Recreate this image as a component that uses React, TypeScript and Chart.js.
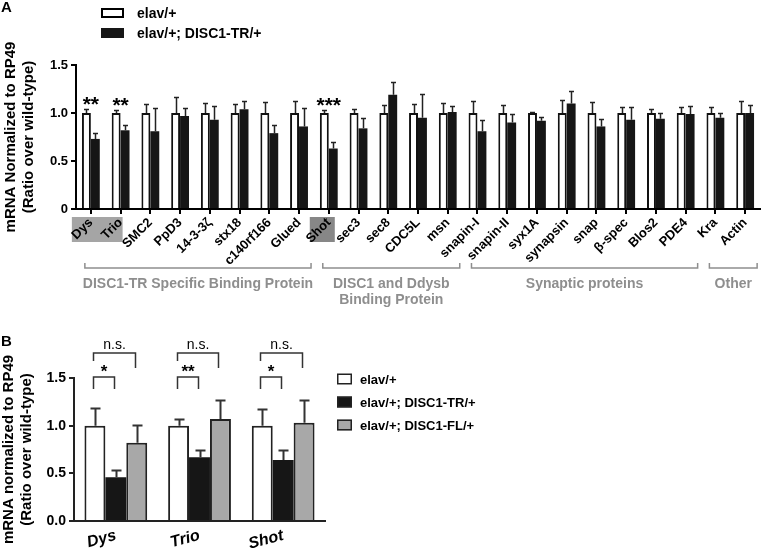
import React, { useEffect, useRef } from 'react';
import { Chart, registerables } from 'chart.js';
Chart.register(...registerables);

const FONT = "'Liberation Sans', Arial, Helvetica, sans-serif";

// ---------- Panel A data ----------
const genesA = ['Dys', 'Trio', 'SMC2', 'PpD3', '14-3-3ζ', 'stx18', 'c140rf166', 'Glued', 'Shot', 'sec3', 'sec8', 'CDC5L', 'msn', 'snapin-I', 'snapin-II', 'syx1A', 'synapsin', 'snap', 'β-spec', 'Blos2', 'PDE4', 'Kra', 'Actin'];
const wtA = [1.0, 1.0, 1.0, 1.0, 1.0, 1.0, 1.0, 1.0, 1.0, 1.0, 1.0, 1.0, 1.0, 1.0, 1.0, 1.0, 1.0, 1.0, 1.0, 1.0, 1.0, 1.0, 1.0];
const wtErrA = [0.04, 0.03, 0.09, 0.17, 0.10, 0.09, 0.11, 0.13, 0.03, 0.04, 0.08, 0.09, 0.10, 0.12, 0.08, 0.01, 0.14, 0.11, 0.06, 0.04, 0.06, 0.06, 0.12];
const trA = [0.73, 0.82, 0.81, 0.97, 0.93, 1.04, 0.79, 0.86, 0.63, 0.84, 1.19, 0.95, 1.01, 0.81, 0.90, 0.92, 1.10, 0.86, 0.93, 0.94, 0.99, 0.95, 1.00];
const trErrA = [0.06, 0.05, 0.24, 0.08, 0.14, 0.08, 0.09, 0.19, 0.07, 0.11, 0.13, 0.25, 0.06, 0.12, 0.09, 0.04, 0.13, 0.08, 0.13, 0.06, 0.08, 0.05, 0.08];
const sigA = ['**', '**', '', '', '', '', '', '', '***', '', '', '', '', '', '', '', '', '', '', '', '', '', ''];
const highlightFrom = [0, 8];
const highlightTo = [1, 8];
const highlightColors = ['#a5a5a5', '#878787'];
const groupLabels = [['DISC1-TR Specific Binding Protein'], ['DISC1 and Ddysb', 'Binding Protein'], ['Synaptic proteins'], ['Other']];
const groupFrom = [0, 8, 13, 21];
const groupTo = [7, 12, 20, 22];
const legendA = ['elav/+', 'elav/+; DISC1-TR/+'];

// ---------- Panel B data ----------
const genesB = ['Dys', 'Trio', 'Shot'];
const wtB = [1.0, 1.0, 1.0];
const wtErrB = [0.19, 0.07, 0.18];
const trB = [0.46, 0.67, 0.64];
const trErrB = [0.07, 0.07, 0.11];
const flB = [0.82, 1.07, 1.03];
const flErrB = [0.19, 0.20, 0.24];
const innerSigB = ['*', '**', '*'];
const outerSigB = ['n.s.', 'n.s.', 'n.s.'];
const legendB = ['elav/+', 'elav/+; DISC1-TR/+', 'elav/+; DISC1-FL/+'];

const WHITE = '#ffffff';
const BLACK = '#161616';
const GRAY = '#a8a8a8';
const LABEL_GRAY = '#8e8e8e';

function errorPlugin(capW: number, lw: number, color: string) {
  return {
    id: 'errbars',
    afterDatasetsDraw(chart: any) {
      const ctx = chart.ctx;
      const y = chart.scales.y;
      chart.data.datasets.forEach((ds: any, di: number) => {
        const errs = ds.errors;
        if (!errs) return;
        const meta = chart.getDatasetMeta(di);
        meta.data.forEach((bar: any, i: number) => {
          const v = ds.data[i];
          const e = errs[i];
          if (!e) return;
          const yTop = Math.round(y.getPixelForValue(v + e)) + 0.5;
          const yBar = y.getPixelForValue(v);
          const x = Math.round(bar.x) + 0.5;
          ctx.save();
          ctx.strokeStyle = color;
          ctx.lineWidth = lw;
          ctx.beginPath();
          ctx.moveTo(x, yBar);
          ctx.lineTo(x, yTop);
          ctx.moveTo(x - capW / 2, yTop);
          ctx.lineTo(x + capW / 2, yTop);
          ctx.stroke();
          ctx.restore();
        });
      });
    },
  };
}

const panelAPlugin = {
  id: 'panelA',
  beforeDraw(chart: any) {
    const ctx = chart.ctx;
    const x = chart.scales.x;
    ctx.save();
    highlightFrom.forEach((f, k) => {
      const x0 = x.getPixelForValue(f) - 19;
      const x1 = x.getPixelForValue(highlightTo[k]) + (k === 0 ? 2 : 6);
      ctx.fillStyle = highlightColors[k];
      ctx.fillRect(x0, 217, x1 - x0, 25);
    });
    ctx.restore();
  },
  afterDraw(chart: any) {
    const ctx = chart.ctx;
    const x = chart.scales.x;
    const y = chart.scales.y;
    ctx.save();
    // panel letter
    ctx.fillStyle = '#000';
    ctx.font = `bold 15px ${FONT}`;
    ctx.textAlign = 'left';
    ctx.textBaseline = 'alphabetic';
    ctx.fillText('A', 1, 12);
    // legend
    const lx = 101;
    [8, 28].forEach((ly, k) => {
      ctx.fillStyle = k === 0 ? WHITE : BLACK;
      ctx.fillRect(lx, ly, 23, 10);
      if (k === 0) {
        ctx.strokeStyle = '#000';
        ctx.lineWidth = 2;
        ctx.strokeRect(lx + 1, ly + 1, 21, 8);
      }
      ctx.fillStyle = '#000';
      ctx.font = `bold 14px ${FONT}`;
      ctx.fillText(legendA[k], 137, ly + 10);
    });
    // significance stars
    ctx.font = `bold 21px ${FONT}`;
    ctx.textAlign = 'center';
    sigA.forEach((s, i) => {
      if (!s) return;
      const top = Math.max(wtA[i] + wtErrA[i], trA[i] + trErrA[i]);
      const cy = y.getPixelForValue(top) - 10;
      ctx.fillText(s, x.getPixelForValue(i), cy + 12);
    });
    // group brackets
    ctx.strokeStyle = LABEL_GRAY;
    ctx.lineWidth = 1.5;
    ctx.fillStyle = LABEL_GRAY;
    ctx.font = `bold 14px ${FONT}`;
    groupFrom.forEach((f, k) => {
      const x0 = x.getPixelForValue(f) - 6;
      const x1 = Math.min(x.getPixelForValue(groupTo[k]) + 12, 761);
      ctx.beginPath();
      ctx.moveTo(x0, 263);
      ctx.lineTo(x0, 268);
      ctx.lineTo(x1, 268);
      ctx.lineTo(x1, 263);
      ctx.stroke();
      const cx = (x0 + x1) / 2;
      groupLabels[k].forEach((t, j) => {
        ctx.fillText(t, cx, 288 + j * 16);
      });
    });
    ctx.restore();
  },
};

const panelBPlugin = {
  id: 'panelB',
  afterDraw(chart: any) {
    const ctx = chart.ctx;
    const area = chart.chartArea;
    ctx.save();
    ctx.fillStyle = '#000';
    ctx.font = `bold 15px ${FONT}`;
    ctx.textAlign = 'left';
    ctx.fillText('B', 1, 26);
    // brackets
    const m0 = chart.getDatasetMeta(0).data;
    const m1 = chart.getDatasetMeta(1).data;
    const m2 = chart.getDatasetMeta(2).data;
    ctx.strokeStyle = '#333';
    ctx.lineWidth = 1.5;
    const top = area.top;
    genesB.forEach((_, i) => {
      const xa = Math.round(m0[i].x) - 1.5;
      const xb = Math.round(m1[i].x) - 1.5;
      const xc = Math.round(m2[i].x) - 1.5;
      ctx.beginPath();
      ctx.moveTo(xa, top + 11);
      ctx.lineTo(xa, top - 1);
      ctx.lineTo(xb, top - 1);
      ctx.lineTo(xb, top + 11);
      ctx.stroke();
      ctx.beginPath();
      ctx.moveTo(xa, top - 17);
      ctx.lineTo(xa, top - 25);
      ctx.lineTo(xc, top - 25);
      ctx.lineTo(xc, top - 10);
      ctx.stroke();
      ctx.fillStyle = '#000';
      ctx.textAlign = 'center';
      ctx.font = `bold 17px ${FONT}`;
      ctx.fillText(innerSigB[i], (xa + xb) / 2, top - 1);
      ctx.font = `14px ${FONT}`;
      ctx.fillText(outerSigB[i], (xa + xc) / 2, top - 29);
    });
    // legend
    const lx = area.right + 12;
    const fills = [WHITE, BLACK, GRAY];
    ctx.textAlign = 'left';
    ctx.font = `bold 13px ${FONT}`;
    fills.forEach((c, k) => {
      const cy = top + 1 + k * 23;
      ctx.fillStyle = c;
      ctx.fillRect(lx, cy - 5.5, 15, 11);
      ctx.strokeStyle = '#222';
      ctx.lineWidth = 1.5;
      ctx.strokeRect(lx + 0.75, cy - 4.75, 13.5, 9.5);
      ctx.fillStyle = '#000';
      ctx.fillText(legendB[k], lx + 23, cy + 5);
    });
    ctx.restore();
  },
};

export default function App() {
  const refA = useRef<HTMLCanvasElement | null>(null);
  const refB = useRef<HTMLCanvasElement | null>(null);

  useEffect(() => {
    const tickFont = { family: FONT, size: 13, weight: 'bold' as const };
    const chartA = new Chart(refA.current as HTMLCanvasElement, {
      type: 'bar',
      data: {
        labels: genesA,
        datasets: [
          { label: legendA[0], data: wtA, errors: wtErrA, backgroundColor: WHITE, borderColor: '#111', borderWidth: 2 } as any,
          { label: legendA[1], data: trA, errors: trErrA, backgroundColor: BLACK, borderColor: BLACK, borderWidth: 0 } as any,
        ],
      },
      options: {
        responsive: false,
        animation: false,
        layout: { padding: { top: 65, right: 2, left: 0, bottom: 0 } },
        datasets: { bar: { categoryPercentage: 0.6, barPercentage: 1.0 } },
        plugins: { legend: { display: false }, tooltip: { enabled: false } },
        scales: {
          x: {
            grid: { offset: false, drawOnChartArea: false, color: '#000', lineWidth: 2, tickLength: 5 },
            border: { color: '#000', width: 2 },
            ticks: { autoSkip: false, maxRotation: 45, minRotation: 45, color: '#000', font: tickFont, padding: 1 },
            afterFit: (s: any) => { s.height = 111; s.paddingLeft = 0; s.paddingRight = 0; },
          },
          y: {
            min: 0,
            max: 1.5,
            grid: { drawOnChartArea: false, color: '#000', lineWidth: 2, tickLength: 5 },
            border: { color: '#000', width: 2 },
            ticks: { stepSize: 0.5, color: '#000', font: tickFont, padding: 3, callback: (v: any) => (Number(v) === 0 ? '0' : Number(v).toFixed(1)) },
            title: { display: true, text: ['mRNA Normalized to RP49', '(Ratio over wild-type)'], color: '#000', font: { family: FONT, size: 15, weight: 'bold', lineHeight: 1.2 }, padding: { top: 2, bottom: 0 } },
            afterFit: (s: any) => { s.width = 76; s.paddingTop = 0; s.paddingBottom = 0; },
          },
        },
      } as any,
      plugins: [errorPlugin(5, 1.5, '#222'), panelAPlugin],
    });

    const chartB = new Chart(refB.current as HTMLCanvasElement, {
      type: 'bar',
      data: {
        labels: genesB,
        datasets: [
          { label: legendB[0], data: wtB, errors: wtErrB, backgroundColor: WHITE, borderColor: '#222', borderWidth: 2 } as any,
          { label: legendB[1], data: trB, errors: trErrB, backgroundColor: BLACK, borderColor: BLACK, borderWidth: 0 } as any,
          { label: legendB[2], data: flB, errors: flErrB, backgroundColor: GRAY, borderColor: '#222', borderWidth: 2 } as any,
        ],
      },
      options: {
        responsive: false,
        animation: false,
        layout: { padding: { top: 58, right: 437, left: 0, bottom: 0 } },
        datasets: { bar: { categoryPercentage: 0.75, barPercentage: 1.0 } },
        plugins: { legend: { display: false }, tooltip: { enabled: false } },
        scales: {
          x: {
            grid: { drawOnChartArea: false, display: true, tickColor: 'rgba(0,0,0,0)', tickLength: 3 },
            border: { color: '#222', width: 2 },
            ticks: { autoSkip: false, maxRotation: 15, minRotation: 15, color: '#000', font: { family: FONT, size: 16, weight: 'bold', style: 'italic' }, padding: 2 },
            afterFit: (s: any) => { s.height = 29; s.paddingLeft = 0; s.paddingRight = 0; },
          },
          y: {
            min: 0,
            max: 1.5,
            grid: { drawOnChartArea: false, color: '#222', lineWidth: 2, tickLength: 5 },
            border: { color: '#222', width: 2 },
            ticks: { stepSize: 0.5, color: '#000', font: { family: FONT, size: 14, weight: 'bold' }, padding: 3, callback: (v: any) => Number(v).toFixed(1) },
            title: { display: true, text: ['mRNA normalized to RP49', '(Ratio over wild-type)'], color: '#000', font: { family: FONT, size: 15, weight: 'bold', lineHeight: 1.2 }, padding: { top: 0, bottom: 0 } },
            afterFit: (s: any) => { s.width = 74; s.paddingTop = 0; s.paddingBottom = 0; },
          },
        },
      } as any,
      plugins: [errorPlugin(10, 2, '#333'), panelBPlugin],
    });

    return () => {
      chartA.destroy();
      chartB.destroy();
    };
  }, []);

  return (
    <div style={{ position: 'fixed', left: 0, top: 0, width: 762, height: 550, background: '#fff', overflow: 'hidden' }}>
      <canvas ref={refA} width={762} height={320} style={{ position: 'absolute', left: 0, top: 0, width: 762, height: 320 }} />
      <canvas ref={refB} width={762} height={230} style={{ position: 'absolute', left: 0, top: 320, width: 762, height: 230 }} />
    </div>
  );
}
